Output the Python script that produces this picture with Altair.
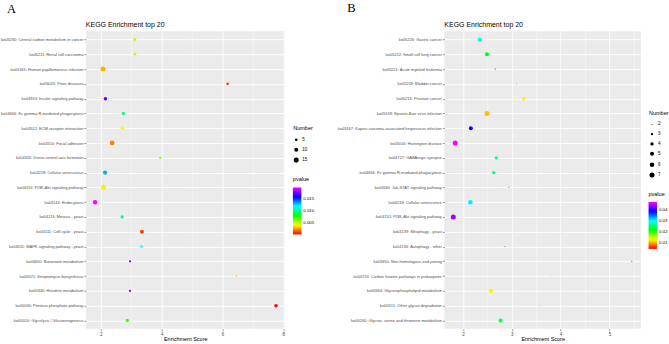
import altair as alt
import pandas as pd

# ---------------- Panel A data ----------------
a_terms = [
    "ko05230: Central carbon metabolism in cancer",
    "ko05211: Renal cell carcinoma",
    "ko05165: Human papillomavirus infection",
    "ko05020: Prion diseases",
    "ko04910: Insulin signaling pathway",
    "ko04666: Fc gamma R-mediated phagocytosis",
    "ko04512: ECM-receptor interaction",
    "ko04510: Focal adhesion",
    "ko04320: Dorso-ventral axis formation",
    "ko04218: Cellular senescence",
    "ko04151: PI3K-Akt signaling pathway",
    "ko04144: Endocytosis",
    "ko04113: Meiosis - yeast",
    "ko04111: Cell cycle - yeast",
    "ko04011: MAPK signaling pathway - yeast",
    "ko00650: Butanoate metabolism",
    "ko00521: Streptomycin biosynthesis",
    "ko00340: Histidine metabolism",
    "ko00030: Pentose phosphate pathway",
    "ko00010: Glycolysis / Gluconeogenesis",
]
a_score = [3.12, 3.12, 2.07, 6.17, 2.15, 2.74, 2.71, 2.37, 3.95, 2.14,
           2.09, 1.81, 2.70, 3.35, 3.33, 2.96, 6.46, 2.96, 7.76, 2.87]
a_number = [6, 6, 15, 5, 8, 7, 8, 14, 4, 11, 15, 12, 7, 10, 5, 4, 2, 4, 8, 7]
a_pvalue = [0.0050, 0.0050, 0.0028, 0.0009, 0.0173, 0.0099, 0.0038, 0.0021, 0.0057, 0.0130,
            0.0037, 0.0197, 0.0099, 0.0010, 0.0118, 0.0180, 0.0026, 0.0180, 0.00001, 0.0071]
a_xticks = [2, 3, 4, 5, 6, 7, 8]
a_size_breaks = [5, 10, 15]
a_p_breaks = [0.005, 0.010, 0.015]

# ---------------- Panel B data ----------------
b_terms = [
    "ko05226: Gastric cancer",
    "ko05222: Small cell lung cancer",
    "ko05221: Acute myeloid leukemia",
    "ko05219: Bladder cancer",
    "ko05215: Prostate cancer",
    "ko05169: Epstein-Barr virus infection",
    "ko05167: Kaposi sarcoma-associated herpesvirus infection",
    "ko05016: Huntington disease",
    "ko04727: GABAergic synapse",
    "ko04666: Fc gamma R-mediated phagocytosis",
    "ko04630: Jak-STAT signaling pathway",
    "ko04218: Cellular senescence",
    "ko04151: PI3K-Akt signaling pathway",
    "ko04139: Mitophagy - yeast",
    "ko04136: Autophagy - other",
    "ko03450: Non-homologous end-joining",
    "ko00720: Carbon fixation pathways in prokaryotes",
    "ko00564: Glycerophospholipid metabolism",
    "ko00511: Other glycan degradation",
    "ko00260: Glycine, serine and threonine metabolism",
]
b_score = [2.34, 2.49, 2.66, 3.10, 3.24, 2.49, 2.16, 1.84, 2.68, 2.63,
           2.94, 2.15, 1.80, 3.81, 2.86, 5.46, 3.81, 2.57, 3.58, 2.77]
b_number = [5, 5, 2, 2, 4, 7, 5, 7, 4, 4, 2, 6, 7, 2, 2, 2, 2, 6, 2, 5]
b_pvalue = [0.0287, 0.0221, 0.0389, 0.0272, 0.0129, 0.0112, 0.0394, 0.0472, 0.0262, 0.0262,
            0.0328, 0.0308, 0.0440, 0.0135, 0.0333, 0.0048, 0.0135, 0.0129, 0.0170, 0.0241]
b_xticks = [2, 2.5, 3, 3.5, 4, 4.5, 5, 5.5]
b_size_breaks = [2, 3, 4, 5, 6, 7]
b_p_breaks = [0.01, 0.02, 0.03, 0.04]

panel_title = "KEGG Enrichment top 20"
rainbow = ["#FF0000", "#FFFF00", "#00FF00", "#00FFFF", "#0000FF", "#FF00FF"]
FONT = "Liberation Sans"


def panel(terms, score, number, pvalue, letter, letter_xy, xdom, xvals, major_test,
          sdom, srange, svals, pvals, pfmt, width, size_xy, size_pad, color_xy, anchor):
    df = pd.DataFrame({"term": terms, "score": score, "number": number, "pvalue": pvalue})
    pmin, pmax = min(pvalue), max(pvalue)
    pdom = [pmin + (pmax - pmin) * i / 5 for i in range(6)]
    pts = alt.Chart(df).mark_circle(opacity=1, strokeWidth=0).encode(
        x=alt.X("score:Q",
                scale=alt.Scale(domain=xdom, nice=False, zero=False),
                axis=alt.Axis(values=xvals, title="Enrichment Score", format="~g",
                              labelExpr=f"({major_test}) ? datum.label : ''",
                              gridWidth={"condition": {"test": major_test, "value": 0.9}, "value": 0.45},
                              tickOpacity={"condition": {"test": major_test, "value": 1}, "value": 0})),
        y=alt.Y("term:N", sort=terms,
                scale=alt.Scale(type="point", padding=0.56),
                axis=alt.Axis(title=None)),
        size=alt.Size("number:Q",
                      scale=alt.Scale(domain=sdom, range=srange, zero=False),
                      legend=alt.Legend(title="Number", values=svals, orient="none",
                                        legendX=size_xy[0], legendY=size_xy[1],
                                        symbolFillColor="black", symbolStrokeWidth=0,
                                        symbolType="circle", rowPadding=size_pad[1], labelOffset=3,
                                        titlePadding=size_pad[0], labelFontSize=4.5, titleFontSize=5.5)),
        color=alt.Color("pvalue:Q",
                        scale=alt.Scale(domain=pdom, range=rainbow, interpolate="rgb"),
                        legend=alt.Legend(title="pvalue", values=pvals, format=pfmt,
                                          orient="none", direction="vertical",
                                          legendX=color_xy[0], legendY=color_xy[1],
                                          gradientLength=47, gradientThickness=8.5,
                                          gradientStrokeWidth=0, labelOverlap=False,
                                          labelOffset=2, titlePadding=4.5,
                                          labelFontSize=4.3, titleFontSize=5.5)),
    )
    lab = alt.Chart(pd.DataFrame({"t": [letter]})).mark_text(
        font="Liberation Serif", fontSize=12.5, align="left", baseline="alphabetic", color="black"
    ).encode(text="t:N", x=alt.value(letter_xy[0]), y=alt.value(letter_xy[1]))
    ttl = alt.Chart(pd.DataFrame({"t": [panel_title]})).mark_text(
        font=FONT, fontSize=7, align="left", baseline="alphabetic", color="black"
    ).encode(text="t:N", x=alt.value(0), y=alt.value(-4.3))
    layers = [pts, lab, ttl]
    if anchor:
        anc = alt.Chart(pd.DataFrame({"a": [0]})).mark_rect(color="white").encode(
            x=alt.value(-85), x2=alt.value(-84), y=alt.value(-31), y2=alt.value(-30))
        layers.append(anc)
    return alt.layer(*layers).properties(width=width, height=298)


A = panel(a_terms, a_score, a_number, a_pvalue, "A", (-79, -18.3), [1.507, 8.043], a_xticks,
          "datum.value % 2 === 0", [2, 15], [1.5, 25.5], a_size_breaks, a_p_breaks, ".3f",
          199, (207.7, 94.5), (6.5, 4.8), (207.3, 146.5), True)
B = panel(b_terms, b_score, b_number, b_pvalue, "B", (-97.3, -19.3), [1.617, 5.648], b_xticks,
          "datum.value % 1 === 0", [2, 7], [1.2, 25.5], b_size_breaks, b_p_breaks, ".2f",
          197, (205, 79.5), (6, 4.8), (204.5, 161), False)

chart = alt.hconcat(A, B, spacing=160, bounds="flush").resolve_scale(
    color="independent", size="independent", x="independent", y="independent"
).properties(padding=0).configure_view(
    fill="#EBEBEB", strokeWidth=0
).configure_axis(
    domain=False, grid=True, gridColor="white", labelFont=FONT, labelColor="#4D4D4D",
    tickColor="#333333", tickWidth=0.5, tickSize=2, labelPadding=1,
    titleFont=FONT, titleFontWeight="normal", titleColor="black"
).configure_axisY(
    labelFontSize=4.0, gridWidth=0.9
).configure_axisX(
    labelFontSize=4.5, titleFontSize=5.5, titlePadding=0.5
).configure_legend(
    labelFont=FONT, titleFont=FONT, titleFontWeight="normal", padding=0,
    labelColor="black", titleColor="black"
)

chart.save("out.html", embed_options={"renderer": "svg", "actions": False})
